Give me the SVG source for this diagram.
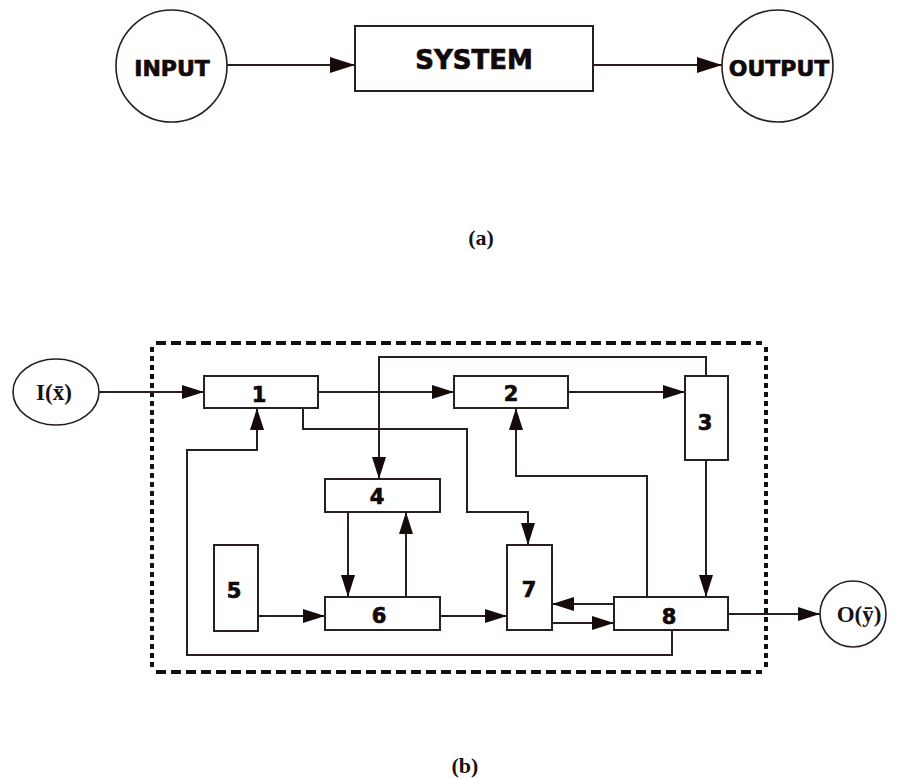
<svg xmlns="http://www.w3.org/2000/svg" width="901" height="778" viewBox="0 0 901 778">
<style>
.box{fill:#fff;stroke:#2a1f1f;stroke-width:2}
.ell{fill:#fff;stroke:#2a1f1f;stroke-width:1.6}
.lbl{font-family:"DejaVu Sans","Liberation Sans",sans-serif;font-weight:bold;fill:#120a0a;stroke:#120a0a;stroke-width:0.7;text-anchor:middle}
.num{font-size:21px}
.big{font-size:22px}
.ser{font-family:"Liberation Serif","DejaVu Serif",serif;font-weight:bold;fill:#1a1212;text-anchor:middle}
.con{fill:none;stroke:#2a1f1f;stroke-width:2}
.dash{fill:none;stroke:#111;stroke-width:4}
</style>
<defs>
<marker id="ah" markerUnits="userSpaceOnUse" markerWidth="22" markerHeight="14" refX="22" refY="7" orient="auto">
<path d="M0,0 L22,7 L0,14 z" fill="#150b0b"/>
</marker>
<marker id="ahb" markerUnits="userSpaceOnUse" markerWidth="25" markerHeight="16" refX="25" refY="8" orient="auto">
<path d="M0,0 L25,8 L0,16 z" fill="#150b0b"/>
</marker>
</defs>

<!-- (a) -->
<g id="input"><ellipse class="ell" cx="171.5" cy="66" rx="55.5" ry="56"/><text class="lbl big" x="172" y="76">INPUT</text></g>
<g id="system"><rect class="box" x="355" y="26" width="238" height="65"/><text class="lbl" style="font-size:26px" x="474" y="69">SYSTEM</text></g>
<g id="output"><ellipse class="ell" cx="777.5" cy="66" rx="55.5" ry="56"/><text class="lbl big" x="779" y="76">OUTPUT</text></g>
<g id="connectors-a">
<line class="con" x1="227" y1="65" x2="355" y2="65" marker-end="url(#ahb)"/>
<line class="con" x1="593" y1="65" x2="722" y2="65" marker-end="url(#ahb)"/>
</g>
<text class="ser" style="font-size:22px" x="481" y="245">(a)</text>

<!-- (b) -->
<g id="boundary">
<path class="dash" d="M156,343 H762" stroke-dasharray="10 5"/>
<path class="dash" d="M156,672 H762" stroke-dasharray="10 5"/>
<path class="dash" d="M152,347 V668" stroke-dasharray="5 4"/>
<path class="dash" d="M766,347 V668" stroke-dasharray="5 4"/>
</g>

<g id="connectors-b">
<line class="con" x1="99" y1="392" x2="204" y2="392" marker-end="url(#ah)"/>
<line class="con" x1="318" y1="392" x2="454" y2="392" marker-end="url(#ah)"/>
<line class="con" x1="568" y1="392" x2="685" y2="392" marker-end="url(#ah)"/>
<path class="con" d="M706,376 V357 H379 V479" marker-end="url(#ah)"/>
<path class="con" d="M706,460 V597" marker-end="url(#ah)"/>
<path class="con" d="M647,597 V476 H516 V408" marker-end="url(#ah)"/>
<path class="con" d="M303,408 V429 H467 V512 H528 V545" marker-end="url(#ah)"/>
<path class="con" d="M672,630 V655 H187 V450 H257 V408" marker-end="url(#ah)"/>
<path class="con" d="M348,512 V597" marker-end="url(#ah)"/>
<path class="con" d="M406,597 V512" marker-end="url(#ah)"/>
<path class="con" d="M258,616 H325" marker-end="url(#ah)"/>
<path class="con" d="M440,616 H507" marker-end="url(#ah)"/>
<path class="con" d="M614,604 H552" marker-end="url(#ah)"/>
<path class="con" d="M552,623 H614" marker-end="url(#ah)"/>
<path class="con" d="M728,614 H820" marker-end="url(#ah)"/>
</g>

<g id="in-x"><ellipse class="ell" cx="56" cy="392" rx="43" ry="33"/><text class="ser" style="font-size:23px" x="54" y="400">I(x&#x0304;)</text></g>
<g id="n1"><rect class="box" x="204" y="376" width="114" height="32"/><text class="lbl num" x="259" y="402">1</text></g>
<g id="n2"><rect class="box" x="454" y="376" width="114" height="32"/><text class="lbl num" x="511" y="401">2</text></g>
<g id="n3"><rect class="box" x="685" y="376" width="43" height="84"/><text class="lbl num" x="705" y="430">3</text></g>
<g id="n4"><rect class="box" x="325" y="479" width="115" height="33"/><text class="lbl num" x="377" y="504">4</text></g>
<g id="n5"><rect class="box" x="214" y="545" width="44" height="86"/><text class="lbl num" x="234" y="598">5</text></g>
<g id="n6"><rect class="box" x="325" y="597" width="115" height="33"/><text class="lbl num" x="379" y="623">6</text></g>
<g id="n7"><rect class="box" x="507" y="545" width="45" height="85"/><text class="lbl num" x="529" y="597">7</text></g>
<g id="n8"><rect class="box" x="614" y="597" width="114" height="33"/><text class="lbl num" x="669" y="624">8</text></g>
<g id="out-y"><ellipse class="ell" cx="853" cy="614" rx="33" ry="33"/><text class="ser" style="font-size:23px" x="859" y="622">O(y&#x0304;)</text></g>

<text class="ser" style="font-size:22px" x="465" y="773">(b)</text>
</svg>
